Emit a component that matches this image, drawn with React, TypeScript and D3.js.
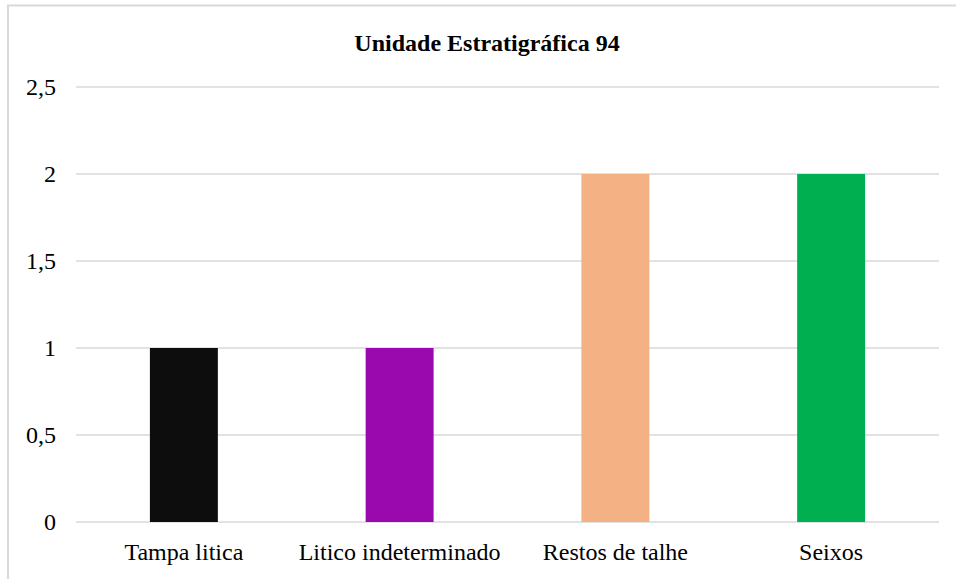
import React from "react";
import * as d3 from "d3";

const categories = ["Tampa litica", "Litico indeterminado", "Restos de talhe", "Seixos"];
const values = [1, 1, 2, 2];
const colors = ["#0d0d0d", "#9a09ae", "#f4b183", "#00b050"];
const yTicks = [0, 0.5, 1, 1.5, 2, 2.5];
const title = "Unidade Estratigráfica 94";

const W = 956;
const H = 579;
const FONT = "Liberation Serif, Times New Roman, serif";

export default function App() {
  const x = d3.scaleBand<string>().domain(categories).range([76, 939]).paddingInner(0.685).paddingOuter(0.3425);
  const y = d3.scaleLinear().domain([0, 2.5]).range([522, 87]);
  const fmt = (v: number) => String(v).replace(".", ",");
  return (
    <svg width={W} height={H} style={{ position: "absolute", left: 0, top: 0, background: "#fff" }}>
      <rect x={8} y={5.5} width={W + 10} height={H + 10} fill="#fff" stroke="#d9d9d9" strokeWidth={2} />
      <text x={487} y={51} textAnchor="middle" fontFamily={FONT} fontWeight="bold" fontSize={24} fill="#000">
        {title}
      </text>
      {yTicks.map((t) => (
        <g key={t}>
          <line x1={76} x2={939} y1={y(t)} y2={y(t)} stroke="#d9d9d9" strokeWidth={1.5} />
          <text x={56} y={y(t)} dy="0.35em" textAnchor="end" fontFamily={FONT} fontSize={24} fill="#000">
            {fmt(t)}
          </text>
        </g>
      ))}
      {categories.map((c, i) => (
        <g key={c}>
          <rect x={x(c)} y={y(values[i])} width={x.bandwidth()} height={y(0) - y(values[i])} fill={colors[i]} />
          <text x={(x(c) as number) + x.bandwidth() / 2} y={560} textAnchor="middle" fontFamily={FONT} fontSize={24} fill="#000">
            {c}
          </text>
        </g>
      ))}
    </svg>
  );
}
